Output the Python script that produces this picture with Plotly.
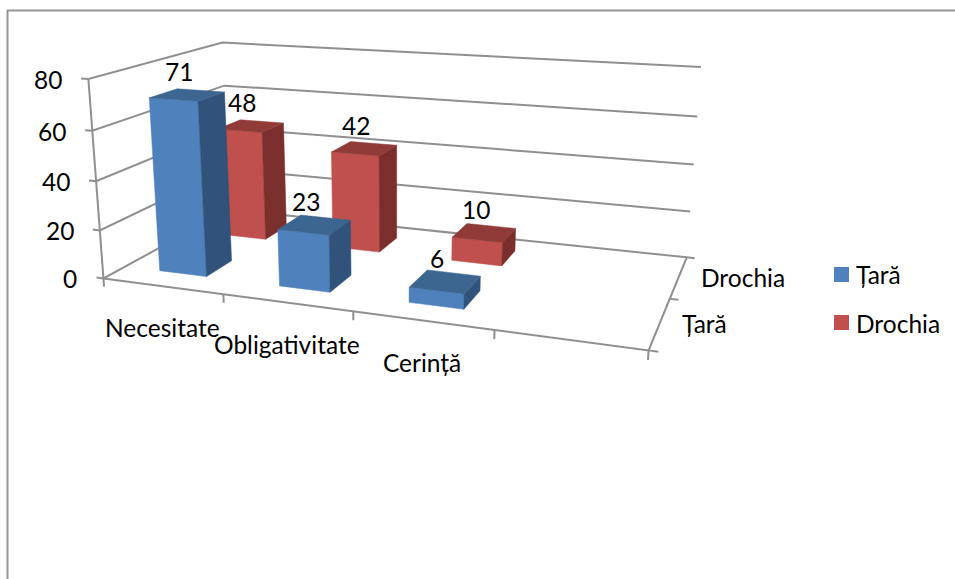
import numpy as np
import plotly.graph_objects as go

categories = ["Necesitate", "Obligativitate", "Cerință"]
series_names = ["Țară", "Drochia"]
tara = [71, 23, 6]
drochia = [48, 42, 10]
value_ticks = [0, 20, 40, 60, 80]

# Excel-style 3D view: category slots 0..4 (the fourth is empty), series rows 0..2, values 0..80.
PROJECTION = np.array([
    [0.66784, 0.34631, -0.03875, 0.20688],
    [0.02696, -0.05174, -0.40654, 0.55680],
    [-0.11558, 0.20518, -0.04897, 1.0],
])
GAP = 0.3
N_SLOTS = 4
N_ROWS = 2
GRID = "#8F8F8F"
FRAME = "#969696"
FACES = [("#4F81BD", "#31527B", "#3C6590"), ("#C0504D", "#7B2F2D", "#913B38")]
FONT = "Lato, Carlito, 'Noto Sans', sans-serif"


def proj(x, y, z):
    p = PROJECTION @ np.array([x / 3, y / 2, z / 80, 1.0])
    return float(p[0] / p[2] * 500), float(p[1] / p[2] * 500)


fig = go.Figure()

segments = []
for v in value_ticks:
    segments.append([(-0.06, 0, v), (0, 0, v), (0, N_ROWS, v), (N_SLOTS, N_ROWS, v)])
segments.append([(0, 0, 0), (0, 0, value_ticks[-1])])
segments.append([(0, 0, 0), (N_SLOTS, 0, 0), (N_SLOTS, N_ROWS, 0)])
for i in range(N_SLOTS + 1):
    segments.append([(i, 0, 0), (i, 0, -3.5)])
for j in range(N_ROWS + 1):
    segments.append([(N_SLOTS, j, 0), (N_SLOTS + 0.06, j, 0)])
xs, ys = [], []
for seg in segments:
    for pt in seg:
        X, Y = proj(*pt)
        xs.append(X)
        ys.append(Y)
    xs.append(None)
    ys.append(None)
fig.add_trace(go.Scatter(x=xs, y=ys, mode="lines", line=dict(color=GRID, width=2),
                         hoverinfo="skip", showlegend=False))

all_series = [tara, drochia]
for j in (1, 0):
    vals = all_series[j]
    for f in range(3):
        xs, ys = [], []
        for i, v in enumerate(vals):
            x0, x1 = i + GAP, i + 1 - GAP
            y0, y1 = j + GAP, j + 1 - GAP
            quad = [
                [(x0, y0, 0), (x1, y0, 0), (x1, y0, v), (x0, y0, v)],
                [(x1, y0, 0), (x1, y1, 0), (x1, y1, v), (x1, y0, v)],
                [(x0, y0, v), (x1, y0, v), (x1, y1, v), (x0, y1, v)],
            ][f]
            for c in quad + [quad[0]]:
                X, Y = proj(*c)
                xs.append(X)
                ys.append(Y)
            xs.append(None)
            ys.append(None)
        fig.add_trace(go.Scatter(x=xs, y=ys, mode="lines", fill="toself", fillcolor=FACES[j][f],
                                 line=dict(color=FACES[j][f], width=0.5), hoverinfo="skip",
                                 showlegend=False, name=series_names[j]))


def label(x, y, text, **kw):
    fig.add_annotation(x=x, y=y, text=text, showarrow=False,
                       font=dict(family=FONT, size=24.5, color="#000"), **kw)


for v in value_ticks:
    X, Y = proj(0, 0, v)
    label(X - 24, Y + 0.5, str(v), xanchor="right")
for i, c in enumerate(categories):
    X, Y = proj(i + 0.5, 0, 0)
    label(X, Y + 41.5, c)
for j, s in enumerate(series_names):
    X, Y = proj(N_SLOTS, j + 0.5, 0)
    label(X + 20, Y, s, xanchor="left")
for j, vals in enumerate(all_series):
    for i, v in enumerate(vals):
        X, Y = proj(i + 0.5, j + 0.5, v)
        label(X - 8.5, Y - 23.5, str(v))

for j, (s, yc, yt) in enumerate(zip(series_names, (274.5, 322.5), (274, 323))):
    fig.add_shape(type="rect", x0=834, x1=849, y0=yc - 7.5, y1=yc + 7.5,
                  fillcolor=FACES[j][0], line_width=0, xref="x", yref="y")
    label(854, yt, s, xanchor="left")

fig.add_shape(type="line", x0=7.5, x1=7.5, y0=10, y1=579, line=dict(color=FRAME, width=2))
fig.add_shape(type="line", x0=7, x1=955, y0=10.5, y1=10.5, line=dict(color=FRAME, width=2))

fig.update_layout(width=955, height=579, margin=dict(l=0, r=0, t=0, b=0),
                  paper_bgcolor="white", plot_bgcolor="white", showlegend=False,
                  xaxis=dict(range=[0, 955], visible=False),
                  yaxis=dict(range=[579, 0], visible=False))
fig.write_html("out.html", config={"displayModeBar": False},
               post_script="document.body.style.margin='0';")
